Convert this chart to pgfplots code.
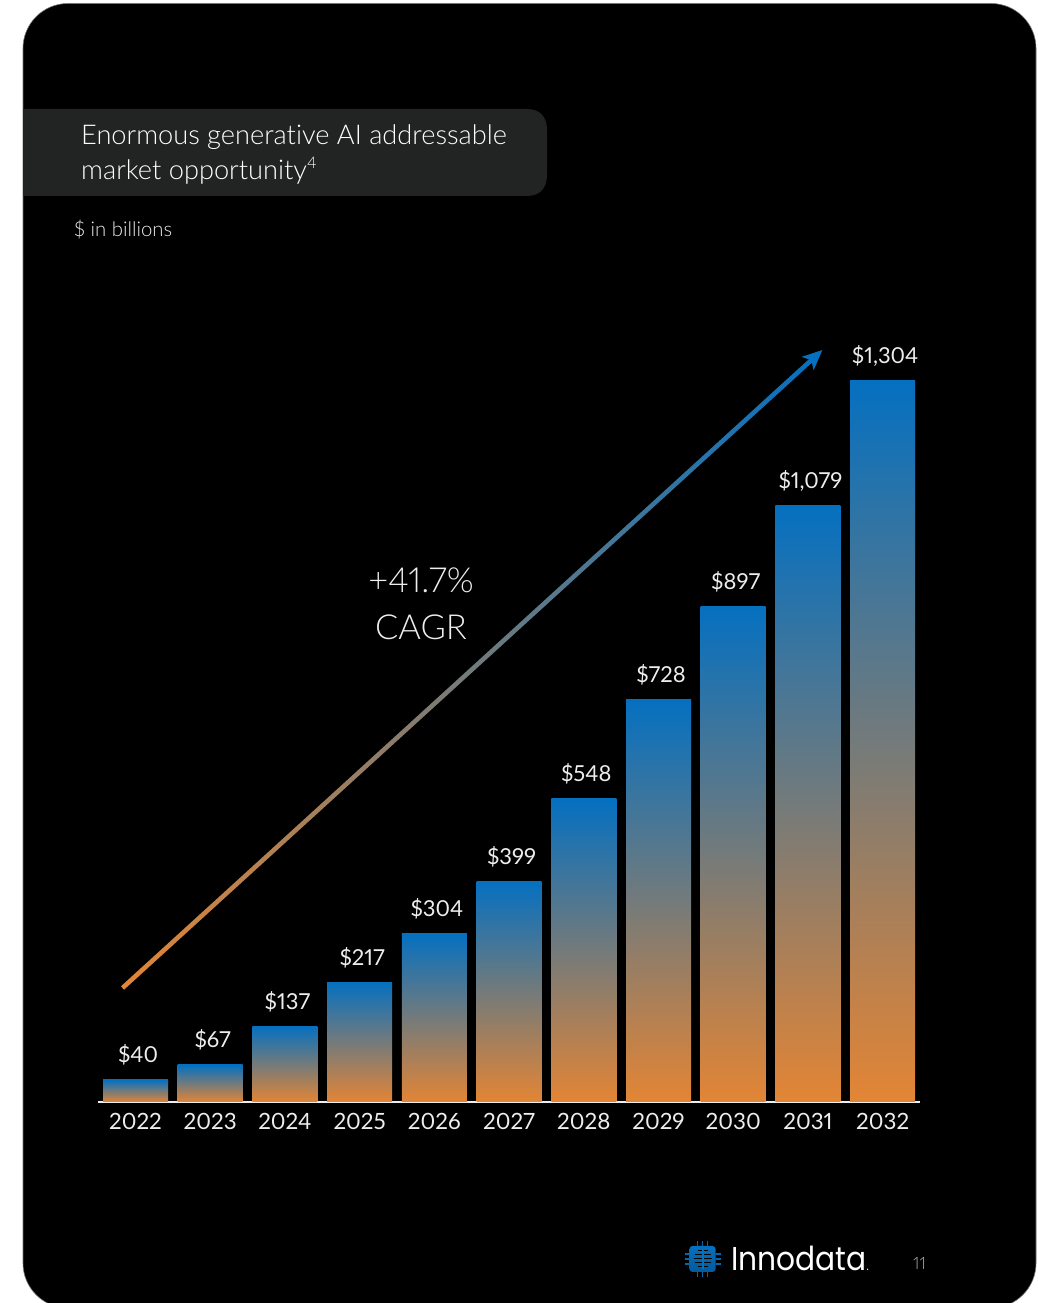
\documentclass[border=0pt]{standalone}
\usepackage{pgfplots}
\usepackage{fontspec}
\pgfplotsset{compat=1.18}
\setmainfont{Lato Light}[Numbers=Proportional,Ligatures=NoCommon]
\newfontfamily\regfont{Lato}[Numbers=Proportional]
\newfontfamily\logofont{Poppins}[FakeStretch=0.9]
\definecolor{barblue}{HTML}{0570C0}
\definecolor{barorange}{HTML}{E38535}
\definecolor{banner}{HTML}{212423}
\definecolor{labeltext}{HTML}{EDEDED}
\newcommand{\px}[1]{\fontsize{#1pt}{#1pt}\selectfont}
\pgfplotsset{growthbar/.style={ybar,bar width=65pt,draw=none,top color=barblue,bottom color=barorange}}
\begin{document}
\begin{tikzpicture}[x=1pt,y=1pt]
\path[use as bounding box] (0,0) rectangle (1038,1303);
\begin{scope}[yshift=1303pt,y=-1pt]
  % slide panel and title banner
  \begin{scope}
    \clip (0,0) rectangle (1038,1303);
    \fill[black,draw=black!55,line width=.6pt,rounded corners=45pt] (23,3.5) rectangle (1036,1308);
    \fill[banner] (23,109) -- (527,109) .. controls (541,109) and (547,118) .. (547,130) -- (547,175)
      .. controls (547,187) and (541,196) .. (527,196) -- (23,196) -- cycle;
  \end{scope}
  \node[anchor=base west,inner sep=0,text=white] at (81,145) {\px{27.2}Enormous generative AI addressable};
  \node[anchor=base west,inner sep=0,text=white] at (81,180) {\px{27.2}market opportunity\raisebox{.42em}{\px{16}4}};
  \node[anchor=base west,inner sep=0,text=labeltext] at (74,237) {\px{20.3}\$ in billions};
  % growth annotation
  \node[anchor=base,inner sep=0,text=labeltext] at (421,593) {\px{34.5}+41.7\%};
  \node[anchor=base,inner sep=0,text=labeltext] at (421,640) {\px{34.5}CAGR};
  \begin{scope}[shift={(122.5,988)},rotate=42.35]
    \fill[left color=barorange,right color=barblue,shading=axis] (0,-2.3) rectangle (935,2.3);
    \fill[barblue] (947,0) -- (927,9) -- (932,0) -- (927,-9) -- cycle;
  \end{scope}
  % footer
  \begin{scope}[shift={(702.5,1259)}]
    \foreach \t in {-5,0,5}{
      \draw[barblue!90!black,line width=1.4pt] (\t,-18) -- (\t,18);
      \draw[barblue!90!black,line width=1.4pt] (-18,\t) -- (18,\t);
    }
    \fill[top color=barblue,bottom color=barblue!80!black,rounded corners=3pt] (-13,-13) rectangle (13,13);
    \foreach \t/\w in {-8/5,-4/8,0/9,4/8,8/5} \draw[black,line width=1pt] (-\w,\t) -- (\w,\t);
    \draw[barblue,line width=2pt] (0,-10) -- (0,10);
  \end{scope}
  \node[anchor=base west,inner sep=0,text=white] at (731,1271) {\px{33}\logofont Innodata\px{12}.};
  \node[anchor=base west,inner sep=0,text=black!30] at (913,1270) {\px{17}11};
\end{scope}
\begin{axis}[
  at={(98pt,201pt)},anchor=south west,
  scale only axis,width=822pt,height=721pt,
  xmin=-0.502,xmax=10.5,ymin=0,ymax=1304,
  axis x line*=bottom,axis y line=none,
  axis line style={draw=labeltext,line width=2pt,-},
  xtick={0,...,10},
  xticklabels={2022,2023,2024,2025,2026,2027,2028,2029,2030,2031,2032},
  major tick length=0pt,
  xticklabel style={text=labeltext,font=\regfont\px{22.4},anchor=base,yshift=-28pt},
  clip=false,
  nodes near coords={\$\pgfmathprintnumber[fixed,precision=0,set thousands separator={,},assume math mode=true]{\pgfplotspointmeta}},
  every node near coord/.append style={text=labeltext,font=\regfont\px{22},anchor=base,yshift=17pt,xshift=2.5pt,inner sep=0},
]
% one plot per bar, so that each bar carries its own full gradient
\addplot[growthbar] coordinates {(0,40)};
\addplot[growthbar] coordinates {(1,67)};
\addplot[growthbar] coordinates {(2,137)};
\addplot[growthbar] coordinates {(3,217)};
\addplot[growthbar] coordinates {(4,304)};
\addplot[growthbar] coordinates {(5,399)};
\addplot[growthbar] coordinates {(6,548)};
\addplot[growthbar] coordinates {(7,728)};
\addplot[growthbar] coordinates {(8,897)};
\addplot[growthbar] coordinates {(9,1079)};
\addplot[growthbar] coordinates {(10,1304)};
\end{axis}
\end{tikzpicture}
\end{document}
